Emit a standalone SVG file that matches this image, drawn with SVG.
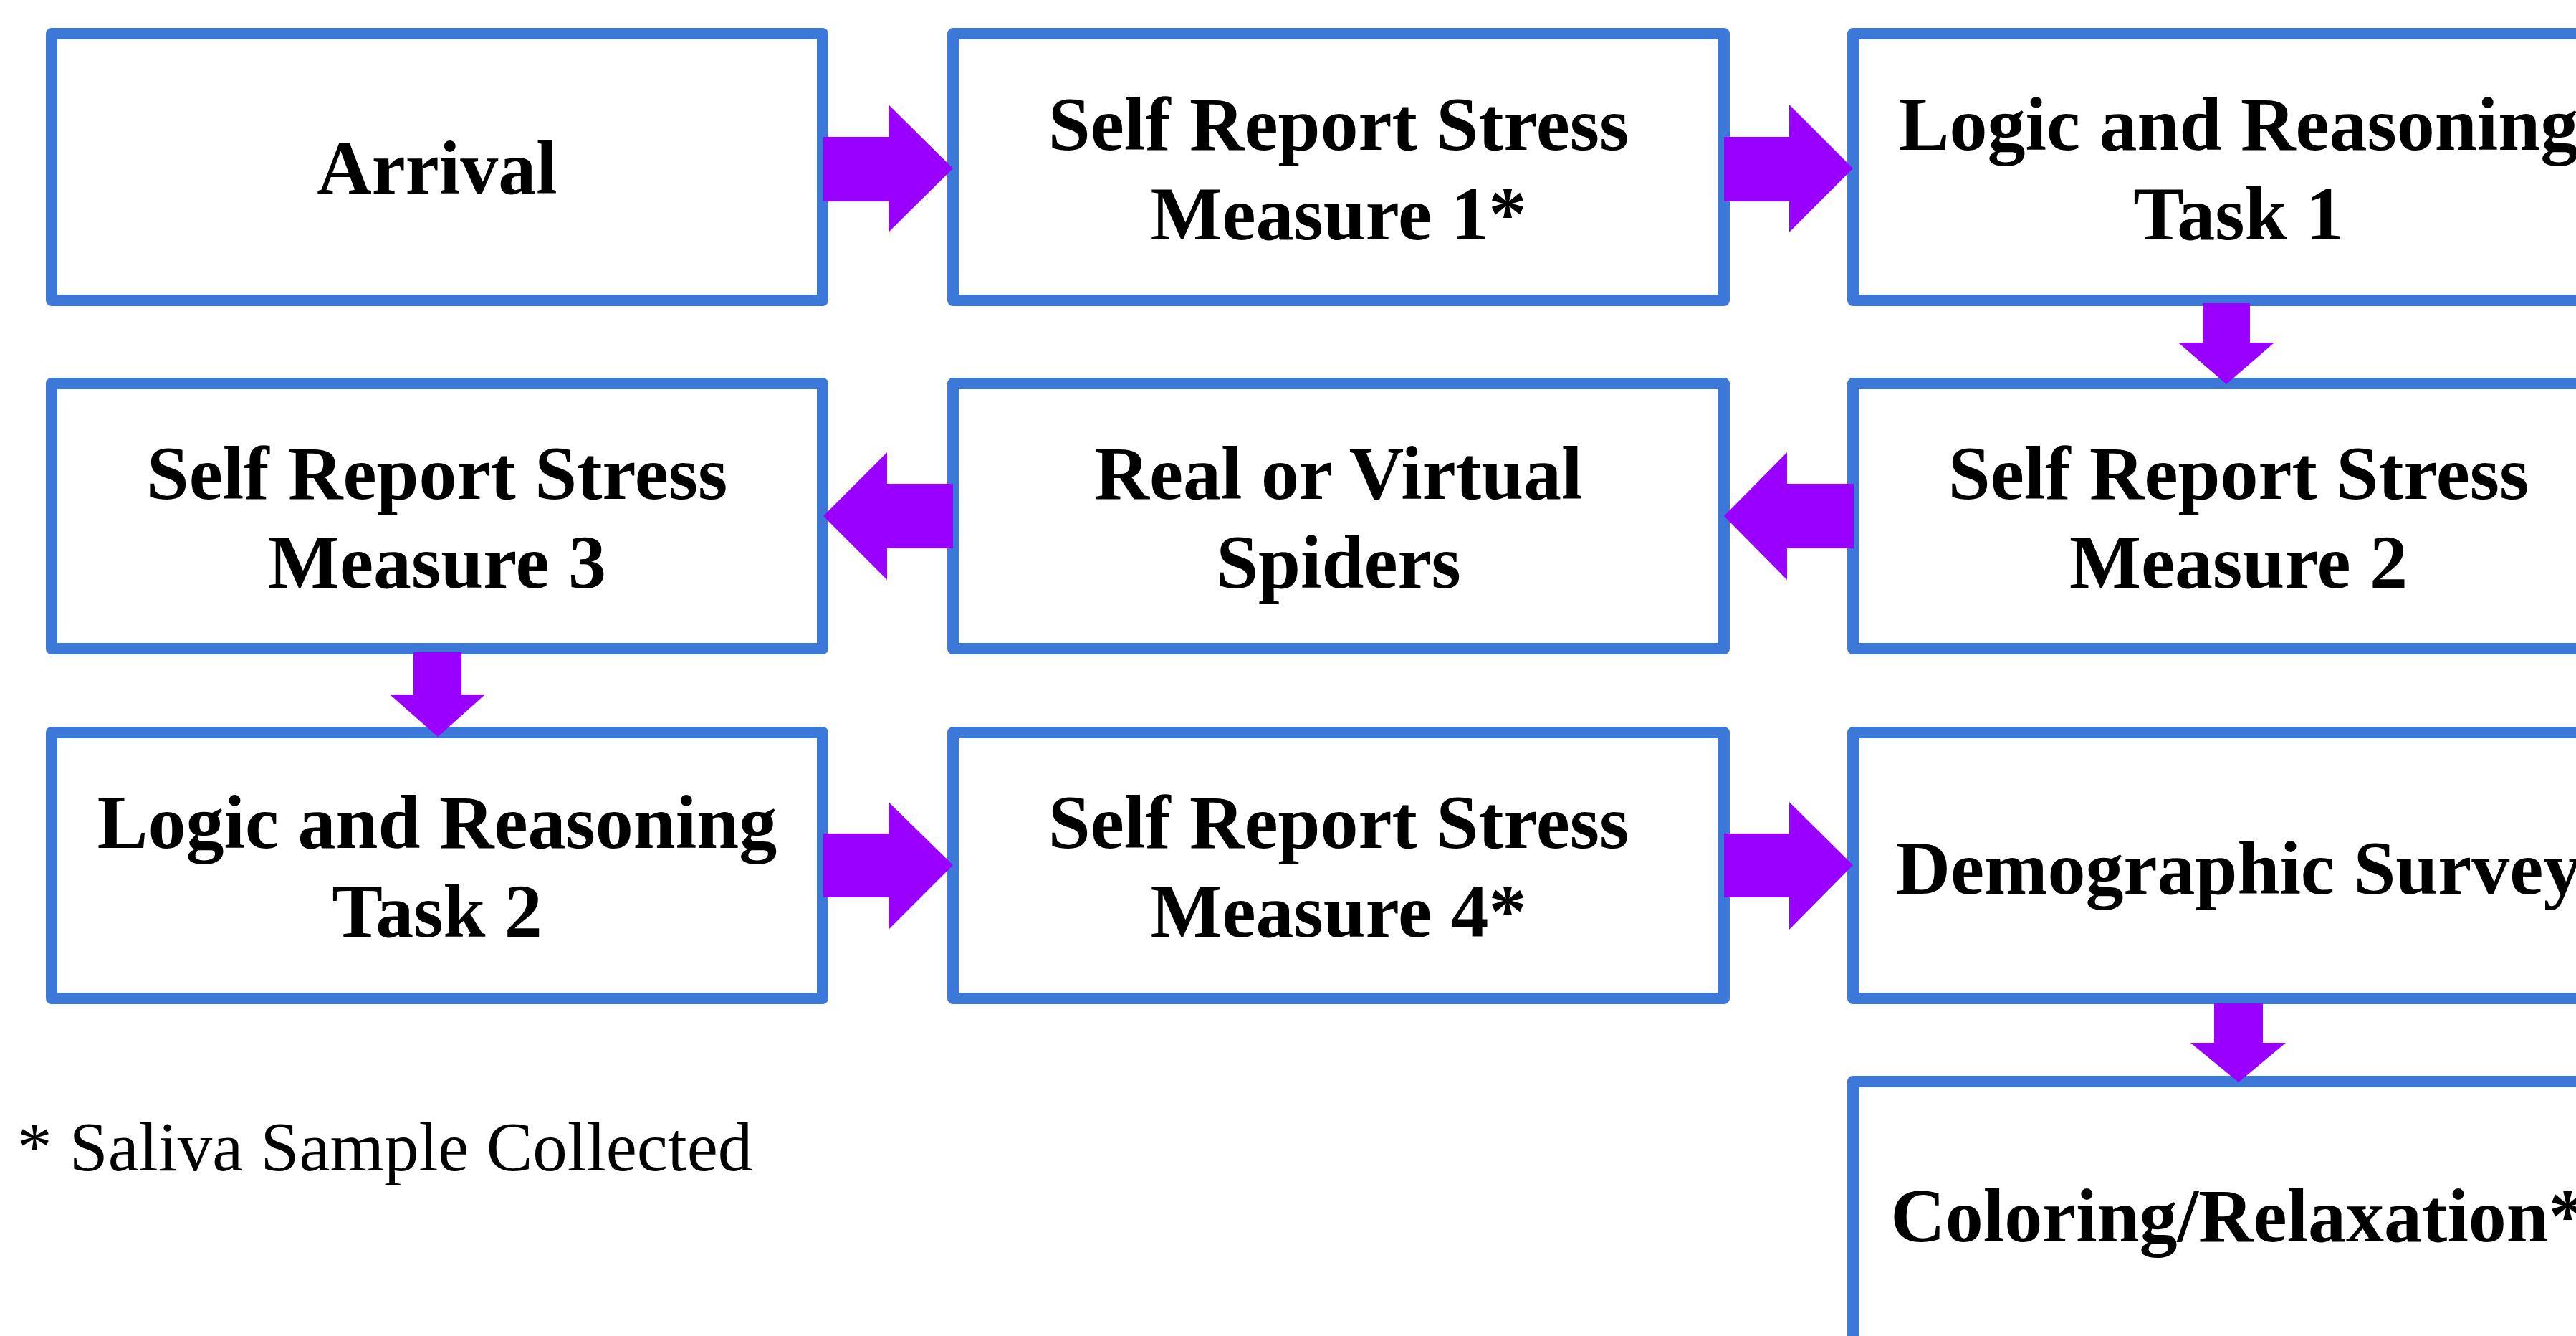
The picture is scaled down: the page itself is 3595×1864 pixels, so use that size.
<svg xmlns="http://www.w3.org/2000/svg" width="3595" height="1864" viewBox="0 0 3595 1864">
<style>
.box{fill:#ffffff;stroke:#3c78d8;stroke-width:16;stroke-linejoin:round}
.lbl{font-family:"Liberation Serif","Times New Roman",serif;font-weight:bold;font-size:106px;fill:#000;text-anchor:middle}
.arr{fill:#9900ff}
.note{font-family:"Liberation Serif","Times New Roman",serif;font-size:97px;fill:#000}
</style>
<rect width="3595" height="1864" fill="#ffffff"/>
<g id="n1"><rect class="box" x="72" y="47" width="1076" height="372"/><text class="lbl" x="610" y="270">Arrival</text></g>
<g id="n2"><rect class="box" x="1330" y="47" width="1076" height="372"/><text class="lbl" x="1868" y="209">Self Report Stress</text><text class="lbl" x="1868" y="334">Measure 1*</text></g>
<g id="n3"><rect class="box" x="2586" y="47" width="1076" height="372"/><text class="lbl" x="3124" y="209">Logic and Reasoning</text><text class="lbl" x="3124" y="334">Task 1</text></g>
<g id="n4"><rect class="box" x="2586" y="535" width="1076" height="370"/><text class="lbl" x="3124" y="696">Self Report Stress</text><text class="lbl" x="3124" y="820">Measure 2</text></g>
<g id="n5"><rect class="box" x="1330" y="535" width="1076" height="370"/><text class="lbl" x="1868" y="696">Real or Virtual</text><text class="lbl" x="1868" y="820">Spiders</text></g>
<g id="n6"><rect class="box" x="72" y="535" width="1076" height="370"/><text class="lbl" x="610" y="696">Self Report Stress</text><text class="lbl" x="610" y="820">Measure 3</text></g>
<g id="n7"><rect class="box" x="72" y="1022" width="1076" height="371"/><text class="lbl" x="610" y="1183">Logic and Reasoning</text><text class="lbl" x="610" y="1307">Task 2</text></g>
<g id="n8"><rect class="box" x="1330" y="1022" width="1076" height="371"/><text class="lbl" x="1868" y="1183">Self Report Stress</text><text class="lbl" x="1868" y="1307">Measure 4*</text></g>
<g id="n9"><rect class="box" x="2586" y="1022" width="1076" height="371"/><text class="lbl" x="3124" y="1247">Demographic Survey</text></g>
<g id="n10"><rect class="box" x="2586" y="1509" width="1076" height="372"/><text class="lbl" x="3124" y="1732">Coloring/Relaxation*</text></g>
<g id="connectors">
<polygon class="arr" points="1149,191 1240,191 1240,146 1330,235 1240,324 1240,281 1149,281"/>
<polygon class="arr" points="2406,191 2497,191 2497,146 2586,235 2497,324 2497,281 2406,281"/>
<polygon class="arr" points="3074,423 3140,423 3140,478 3174,478 3107,536 3040,478 3074,478"/>
<polygon class="arr" points="2587,675 2494,675 2494,631 2406,720 2494,809 2494,765 2587,765"/>
<polygon class="arr" points="1330,675 1238,675 1238,631 1149,720 1238,809 1238,765 1330,765"/>
<polygon class="arr" points="577,910 644,910 644,969 677,969 611,1028 544,969 577,969"/>
<polygon class="arr" points="1149,1163 1240,1163 1240,1119 1330,1207 1240,1297 1240,1252 1149,1252"/>
<polygon class="arr" points="2406,1163 2497,1163 2497,1119 2586,1207 2497,1297 2497,1252 2406,1252"/>
<polygon class="arr" points="3090,1400 3158,1400 3158,1455 3190,1455 3124,1510 3057,1455 3090,1455"/>
</g>
<text class="note" x="24" y="1633">* Saliva Sample Collected</text>
</svg>
